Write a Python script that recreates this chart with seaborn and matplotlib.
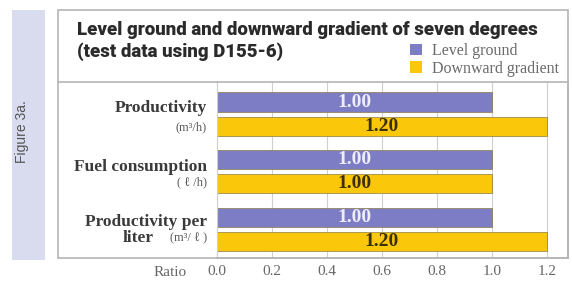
import matplotlib
matplotlib.use("Agg")
import matplotlib.pyplot as plt
from matplotlib import font_manager
from matplotlib.patches import Rectangle, Patch
from matplotlib.lines import Line2D
import matplotlib.transforms as mtransforms
import seaborn as sns
import pandas as pd

categories = ["Productivity", "Fuel consumption", "Productivity per liter"]
series = ["Level ground", "Downward gradient"]
level_values = [1.00, 1.00, 1.00]
downward_values = [1.20, 1.00, 1.20]
x_ticks = [0.0, 0.2, 0.4, 0.6, 0.8, 1.0, 1.2]
tick_labels = ["0.0", "0.2", "0.4", "0.6", "0.8", "1.0", "1.2"]
title_lines = ["Level ground and downward gradient of seven degrees",
               "(test data using D155-6)"]

df = pd.DataFrame({
    "category": categories * 2,
    "series": [series[0]] * 3 + [series[1]] * 3,
    "value": level_values + downward_values,
})

sns.set_theme(style="white")
names = {f.name for f in font_manager.fontManager.ttflist}
SERIF = ["Liberation Serif", "DejaVu Serif"]
if "Liberation Sans Narrow" in names:
    TITLE_FONT, TITLE_SIZE, TITLE_W = "Liberation Sans Narrow", 15, "bold"
elif "Roboto" in names:
    TITLE_FONT, TITLE_SIZE, TITLE_W = "Roboto", 13.4, "black"
else:
    TITLE_FONT, TITLE_SIZE, TITLE_W = "DejaVu Sans", 11, "bold"

W, H = 572, 281
fig = plt.figure(figsize=(W / 100, H / 100), dpi=100)
fig.patch.set_facecolor("white")

def px(x0, y0, x1, y1):
    return [x0 / W, 1 - y1 / H, (x1 - x0) / W, (y1 - y0) / H]

ax = fig.add_axes(px(217, 82, 568, 258))

purple = "#7d7dc6"
yellow = "#fbc70b"
sns.barplot(data=df, y="category", x="value", hue="series", orient="h",
            palette=[purple, yellow], width=0.84, gap=0.2, ax=ax,
            legend=False, edgecolor="#8a7a40", linewidth=0.5, saturation=1)

ax.set_xlim(0, 1.276)
ax.set_ylim(2.5, -0.56)
ax.set_xticks(x_ticks)
ax.set_xticklabels(tick_labels, family=SERIF, fontsize=11, color="#666666")
ax.set_yticks([])
ax.set_xlabel("")
ax.set_ylabel("")
ax.tick_params(axis="x", length=0, pad=5)
ax.grid(axis="x", color="#cfcfcf", linewidth=0.8)
ax.set_axisbelow(True)
for side, sp in ax.spines.items():
    sp.set_color("#b5b5b5")
    sp.set_linewidth(1.2)
ax.spines["left"].set_color("#cfcfcf")
ax.spines["left"].set_linewidth(0.8)

# value labels
label_colors = ["#eeeefa", "#3a3000"]
for cont, col in zip(ax.containers, label_colors):
    ax.bar_label(cont, labels=[f"{v:.2f}" for v in cont.datavalues],
                 label_type="center", color=col, fontsize=14,
                 fontweight="bold", family=SERIF)

# category labels
tr = mtransforms.blended_transform_factory(fig.transFigure, ax.transData)
lx = 207 / W
lab_col = "#3a3a3a"
sub_col = "#5a5a5a"
big = 12.5
small = 9
ax.text(lx, -0.1, "Productivity", transform=tr, ha="right", va="center",
        family=SERIF, fontsize=big, fontweight="bold", color=lab_col)
ax.text(lx, 0.23, "(m³/h)", transform=tr, ha="right", va="center",
        family=SERIF, fontsize=small, color=sub_col)
ax.text(lx, 0.91, "Fuel consumption", transform=tr, ha="right", va="center",
        family=SERIF, fontsize=big, fontweight="bold", color=lab_col)
ax.text(lx, 1.19, "( ℓ /h)", transform=tr, ha="right", va="center",
        family=SERIF, fontsize=small, color=sub_col)
ax.text(lx, 1.88, "Productivity per", transform=tr, ha="right", va="center",
        family=SERIF, fontsize=big, fontweight="bold", color=lab_col)
ax.text(lx, 2.16, "(m³/ ℓ )", transform=tr, ha="right", va="center",
        family=SERIF, fontsize=small, color=sub_col)
ax.text(154 / W, 2.16, "liter", transform=tr, ha="right", va="center",
        family=SERIF, fontsize=big, fontweight="bold", color=lab_col)

fig.text(187 / W, 1 - 272 / H, "Ratio", ha="right", va="center",
         family=SERIF, fontsize=11, color="#666666")

# legend
handles = [Patch(facecolor=purple, edgecolor="none"),
           Patch(facecolor=yellow, edgecolor="none")]
fig.legend(handles, series, loc="upper left",
           bbox_to_anchor=(410 / W, 1 - 43 / H), frameon=False,
           prop={"family": SERIF, "size": 11.5}, labelcolor="#6a6a6a",
           handlelength=0.75, handleheight=0.75, handletextpad=0.6,
           labelspacing=0.1, borderpad=0, borderaxespad=0)

# title
for i, line in enumerate(title_lines):
    fig.text(77 / W, 1 - (30 + 22 * i) / H, line, ha="left", va="center",
             family=TITLE_FONT, fontsize=TITLE_SIZE, fontweight=TITLE_W,
             color="#2a2a2a")

# frame and side strip
fig.add_artist(Rectangle((58 / W, 1 - 258 / H), 510 / W, 248 / H,
                         transform=fig.transFigure, fill=False,
                         edgecolor="#b5b5b5", linewidth=1.2))
fig.add_artist(Line2D([58 / W, 217 / W], [1 - 82 / H, 1 - 82 / H],
                      transform=fig.transFigure, color="#b5b5b5", linewidth=1.2))
fig.add_artist(Rectangle((12 / W, 1 - 260 / H), 33 / W, 250 / H,
                         transform=fig.transFigure, facecolor="#d9dcef",
                         edgecolor="none"))
fig.text(22 / W, 1 - 132 / H, "Figure 3a.", rotation=90, ha="center",
         va="center", family=["Liberation Sans", "DejaVu Sans"], fontsize=10,
         color="#555555")

fig.savefig("out.png", dpi=100)
